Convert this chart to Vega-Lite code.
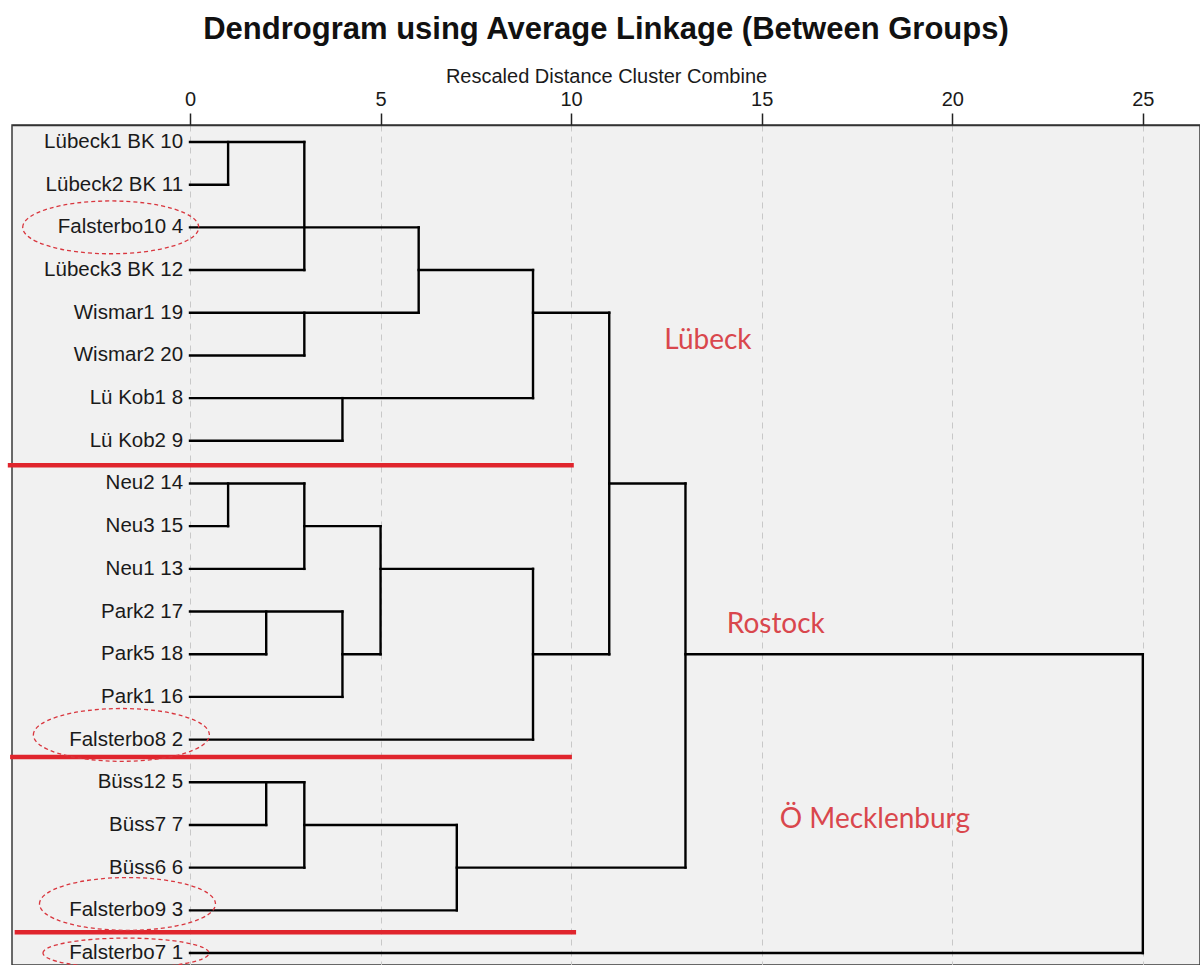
{
  "$schema": "https://vega.github.io/schema/vega-lite/v6.json",
  "width": 1188,
  "height": 840,
  "autosize": {"type": "none"},
  "padding": {"left": 12, "top": 125, "right": 0, "bottom": 0},
  "background": "white",
  "config": {
    "view": {"fill": "#f1f1f1", "stroke": "#3a3a3a", "strokeWidth": 1.5},
    "font": "Liberation Sans",
    "axis": {
      "titleFont": "Liberation Sans",
      "titleFontSize": 20,
      "titleFontWeight": "normal",
      "titleColor": "#1a1a1a",
      "titlePadding": 3,
      "labelFont": "Liberation Sans",
      "labelFontSize": 20,
      "labelColor": "#1a1a1a",
      "labelPadding": 4,
      "labelFlush": false,
      "tickSize": 12,
      "tickColor": "#222222",
      "tickWidth": 1.5,
      "domainColor": "#333333",
      "domainWidth": 1.5,
      "grid": true,
      "gridColor": "#c8c8c8",
      "gridDash": [6, 5],
      "gridWidth": 1
    }
  },
  "title": {
    "text": "Dendrogram using Average Linkage (Between Groups)",
    "fontSize": 31,
    "fontWeight": "bold",
    "font": "Liberation Sans",
    "color": "#111111",
    "anchor": "middle",
    "offset": 20
  },
  "datasets": {
    "segments": [
      {"x": 0, "x2": 3, "y": 0, "y2": 0},
      {"x": 0, "x2": 1, "y": 1, "y2": 1},
      {"x": 0, "x2": 6, "y": 2, "y2": 2},
      {"x": 0, "x2": 3, "y": 3, "y2": 3},
      {"x": 6, "x2": 9, "y": 3, "y2": 3},
      {"x": 0, "x2": 6, "y": 4, "y2": 4},
      {"x": 9, "x2": 11, "y": 4, "y2": 4},
      {"x": 0, "x2": 3, "y": 5, "y2": 5},
      {"x": 0, "x2": 9, "y": 6, "y2": 6},
      {"x": 0, "x2": 4, "y": 7, "y2": 7},
      {"x": 0, "x2": 3, "y": 8, "y2": 8},
      {"x": 11, "x2": 13, "y": 8, "y2": 8},
      {"x": 0, "x2": 1, "y": 9, "y2": 9},
      {"x": 3, "x2": 5, "y": 9, "y2": 9},
      {"x": 0, "x2": 3, "y": 10, "y2": 10},
      {"x": 5, "x2": 9, "y": 10, "y2": 10},
      {"x": 0, "x2": 4, "y": 11, "y2": 11},
      {"x": 0, "x2": 2, "y": 12, "y2": 12},
      {"x": 4, "x2": 5, "y": 12, "y2": 12},
      {"x": 9, "x2": 11, "y": 12, "y2": 12},
      {"x": 13, "x2": 25, "y": 12, "y2": 12},
      {"x": 0, "x2": 4, "y": 13, "y2": 13},
      {"x": 0, "x2": 9, "y": 14, "y2": 14},
      {"x": 0, "x2": 3, "y": 15, "y2": 15},
      {"x": 0, "x2": 2, "y": 16, "y2": 16},
      {"x": 3, "x2": 7, "y": 16, "y2": 16},
      {"x": 0, "x2": 3, "y": 17, "y2": 17},
      {"x": 7, "x2": 13, "y": 17, "y2": 17},
      {"x": 0, "x2": 7, "y": 18, "y2": 18},
      {"x": 0, "x2": 25, "y": 19, "y2": 19},
      {"x": 1, "x2": 1, "y": 0, "y2": 1},
      {"x": 3, "x2": 3, "y": 0, "y2": 3},
      {"x": 3, "x2": 3, "y": 4, "y2": 5},
      {"x": 6, "x2": 6, "y": 2, "y2": 4},
      {"x": 4, "x2": 4, "y": 6, "y2": 7},
      {"x": 9, "x2": 9, "y": 3, "y2": 6},
      {"x": 11, "x2": 11, "y": 4, "y2": 12},
      {"x": 1, "x2": 1, "y": 8, "y2": 9},
      {"x": 3, "x2": 3, "y": 8, "y2": 10},
      {"x": 2, "x2": 2, "y": 11, "y2": 12},
      {"x": 4, "x2": 4, "y": 11, "y2": 13},
      {"x": 5, "x2": 5, "y": 9, "y2": 12},
      {"x": 9, "x2": 9, "y": 10, "y2": 14},
      {"x": 13, "x2": 13, "y": 8, "y2": 17},
      {"x": 25, "x2": 25, "y": 12, "y2": 19},
      {"x": 2, "x2": 2, "y": 15, "y2": 16},
      {"x": 3, "x2": 3, "y": 15, "y2": 17},
      {"x": 7, "x2": 7, "y": 16, "y2": 18}
    ],
    "leaves": [
      {"name": "Lübeck1 BK 10", "y": 0},
      {"name": "Lübeck2 BK 11", "y": 1},
      {"name": "Falsterbo10 4", "y": 2},
      {"name": "Lübeck3 BK 12", "y": 3},
      {"name": "Wismar1 19", "y": 4},
      {"name": "Wismar2 20", "y": 5},
      {"name": "Lü Kob1 8", "y": 6},
      {"name": "Lü Kob2 9", "y": 7},
      {"name": "Neu2 14", "y": 8},
      {"name": "Neu3 15", "y": 9},
      {"name": "Neu1 13", "y": 10},
      {"name": "Park2 17", "y": 11},
      {"name": "Park5 18", "y": 12},
      {"name": "Park1 16", "y": 13},
      {"name": "Falsterbo8 2", "y": 14},
      {"name": "Büss12 5", "y": 15},
      {"name": "Büss7 7", "y": 16},
      {"name": "Büss6 6", "y": 17},
      {"name": "Falsterbo9 3", "y": 18},
      {"name": "Falsterbo7 1", "y": 19}
    ],
    "redlines": [
      {"x": -4.78, "x2": 10.07, "y": 7.57},
      {"x": -4.72, "x2": 10.02, "y": 14.41},
      {"x": -4.6, "x2": 10.13, "y": 18.51}
    ],
    "groups": [
      {"label": "Lübeck", "x": 13.59, "y": 4.66},
      {"label": "Rostock", "x": 15.37, "y": 11.32},
      {"label": "Ö Mecklenburg", "x": 17.97, "y": 15.89}
    ],
    "ellipses": [
      {"name": "Falsterbo10 4", "x": -2.08, "y": 2.0},
      {"name": "Falsterbo8 2", "x": -1.8, "y": 13.89},
      {"name": "Falsterbo9 3", "x": -1.64, "y": 17.85}
    ],
    "ellipsesFlat": [
      {"name": "Falsterbo7 1", "x": -1.68, "y": 19.0}
    ]
  },
  "layer": [
    {
      "data": {"name": "segments"},
      "mark": {"type": "rule", "color": "#000000", "strokeWidth": 2.4, "strokeCap": "square"},
      "encoding": {
        "x": {"field": "x", "type": "quantitative", "scale": {"domain": [-4.67, 26.5], "nice": false, "zero": false},
              "axis": {"orient": "top", "values": [0, 5, 10, 15, 20, 25], "title": "Rescaled Distance Cluster Combine"}},
        "x2": {"field": "x2"},
        "y": {"field": "y", "type": "quantitative", "scale": {"domain": [-0.398, 19.28], "nice": false, "zero": false, "reverse": true}, "axis": null},
        "y2": {"field": "y2"}
      }
    },
    {
      "data": {"name": "leaves"},
      "mark": {"type": "text", "align": "right", "baseline": "middle", "fontSize": 20.5, "color": "#1a1a1a", "font": "Liberation Sans"},
      "encoding": {
        "x": {"datum": -0.18, "type": "quantitative", "scale": {"domain": [-4.67, 26.5], "nice": false, "zero": false},
              "axis": {"orient": "top", "values": [0, 5, 10, 15, 20, 25], "title": "Rescaled Distance Cluster Combine"}},
        "y": {"field": "y", "type": "quantitative", "scale": {"domain": [-0.398, 19.28], "nice": false, "zero": false, "reverse": true}, "axis": null},
        "text": {"field": "name"}
      }
    },
    {
      "data": {"name": "redlines"},
      "mark": {"type": "rule", "color": "#e0252d", "strokeWidth": 4.5},
      "encoding": {
        "x": {"field": "x", "type": "quantitative", "scale": {"domain": [-4.67, 26.5], "nice": false, "zero": false},
              "axis": {"orient": "top", "values": [0, 5, 10, 15, 20, 25], "title": "Rescaled Distance Cluster Combine"}},
        "x2": {"field": "x2"},
        "y": {"field": "y", "type": "quantitative", "scale": {"domain": [-0.398, 19.28], "nice": false, "zero": false, "reverse": true}, "axis": null}
      }
    },
    {
      "data": {"name": "groups"},
      "mark": {"type": "text", "align": "center", "baseline": "middle", "fontSize": 28, "font": "Lato", "color": "#d9474d"},
      "encoding": {
        "x": {"field": "x", "type": "quantitative", "scale": {"domain": [-4.67, 26.5], "nice": false, "zero": false},
              "axis": {"orient": "top", "values": [0, 5, 10, 15, 20, 25], "title": "Rescaled Distance Cluster Combine"}},
        "y": {"field": "y", "type": "quantitative", "scale": {"domain": [-0.398, 19.28], "nice": false, "zero": false, "reverse": true}, "axis": null},
        "text": {"field": "label"}
      }
    },
    {
      "data": {"name": "ellipses"},
      "mark": {
        "type": "point",
        "shape": "M -1 0 A 1 0.3 0 1 1 1 0 A 1 0.3 0 1 1 -1 0 Z",
        "filled": false,
        "stroke": "#d9363e",
        "strokeWidth": 1.3,
        "strokeDash": [4, 3],
        "size": 30976,
        "opacity": 1
      },
      "encoding": {
        "x": {"field": "x", "type": "quantitative", "scale": {"domain": [-4.67, 26.5], "nice": false, "zero": false},
              "axis": {"orient": "top", "values": [0, 5, 10, 15, 20, 25], "title": "Rescaled Distance Cluster Combine"}},
        "y": {"field": "y", "type": "quantitative", "scale": {"domain": [-0.398, 19.28], "nice": false, "zero": false, "reverse": true}, "axis": null}
      }
    },
    {
      "data": {"name": "ellipsesFlat"},
      "mark": {
        "type": "point",
        "shape": "M -1 0 A 1 0.18 0 1 1 1 0 A 1 0.18 0 1 1 -1 0 Z",
        "filled": false,
        "stroke": "#d9363e",
        "strokeWidth": 1.3,
        "strokeDash": [4, 3],
        "size": 27556,
        "opacity": 1
      },
      "encoding": {
        "x": {"field": "x", "type": "quantitative", "scale": {"domain": [-4.67, 26.5], "nice": false, "zero": false},
              "axis": {"orient": "top", "values": [0, 5, 10, 15, 20, 25], "title": "Rescaled Distance Cluster Combine"}},
        "y": {"field": "y", "type": "quantitative", "scale": {"domain": [-0.398, 19.28], "nice": false, "zero": false, "reverse": true}, "axis": null}
      }
    }
  ]
}
